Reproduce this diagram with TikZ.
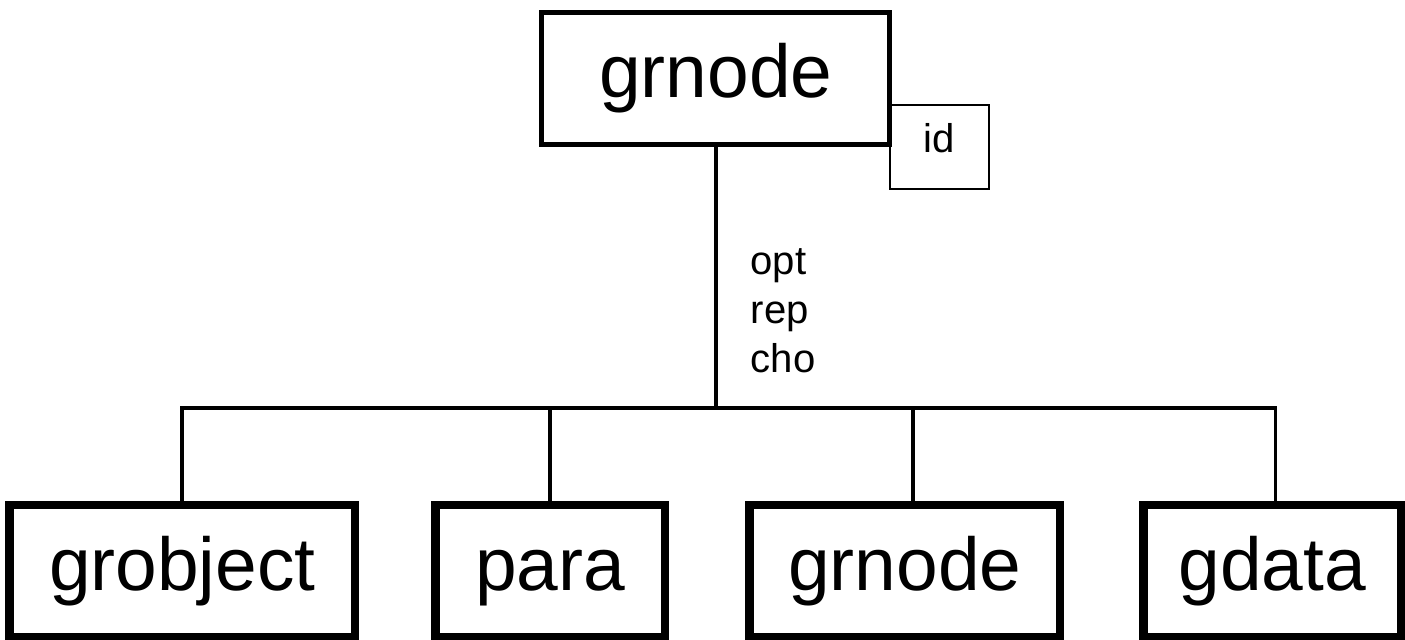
\documentclass[tikz,border=0pt]{standalone}
\usepackage{fontspec}
\setmainfont{Liberation Sans}
\usetikzlibrary{positioning}

\begin{document}
\begin{tikzpicture}[x=0.01cm,y=-0.01cm,
    topbox/.style={draw,line width=1.4pt,inner sep=0pt,outer sep=0pt,
      minimum width=3.475cm,minimum height=1.315cm,
      text height=0.54cm,text depth=0.16cm,
      font=\fontsize{21.3pt}{25pt}\selectfont},
    subbox/.style={draw,line width=2.4pt,inner sep=0pt,
      minimum height=1.32cm,
      text height=0.54cm,text depth=0.16cm,
      font=\fontsize{21.3pt}{25pt}\selectfont},
    idbox/.style={draw,line width=0.6pt,inner sep=0pt,outer sep=0pt,
      minimum width=0.99cm,minimum height=0.84cm,
      text height=0.29cm,text depth=0.19cm,
      font=\fontsize{11.4pt}{13.7pt}\selectfont},
    link/.style={line width=1pt}]

    \useasboundingbox (0,0) rectangle (1405,640);

    \node[topbox] (GrNode) at (715.75,78.75) {grnode};
    \node[idbox,anchor=west,yshift=-0.025cm] (GrNodeId) at (GrNode.south east) {id};

    \coordinate (Hub) at (GrNode.south |- 0,408);

    \node[subbox,minimum width=3.455cm] (GrObject) at (182.25,571) {grobject};
    \node[subbox,minimum width=2.295cm] (Para) at (550.25,571) {para};
    \node[subbox,minimum width=3.105cm] (SubGrNode) at (904.75,571) {grnode};
    \node[subbox,minimum width=2.575cm] (GData) at (1272.25,571) {gdata};

    \draw[link] (GrNode.south) -- (Hub);
    \node[anchor=west,inner sep=0pt,align=left,
      font=\fontsize{11.4pt}{13.9pt}\selectfont] (Kinds) at (750,311)
    {opt\\rep\\cho};

    \draw[link] (Hub) -| (GrObject.north);
    \draw[link] (Hub) -| (Para.north);
    \draw[link] (Hub) -| ([xshift=0.08cm]SubGrNode.north);
    \draw[link] (Hub) -| ([xshift=0.03cm]GData.north);

  \end{tikzpicture}
\end{document}
